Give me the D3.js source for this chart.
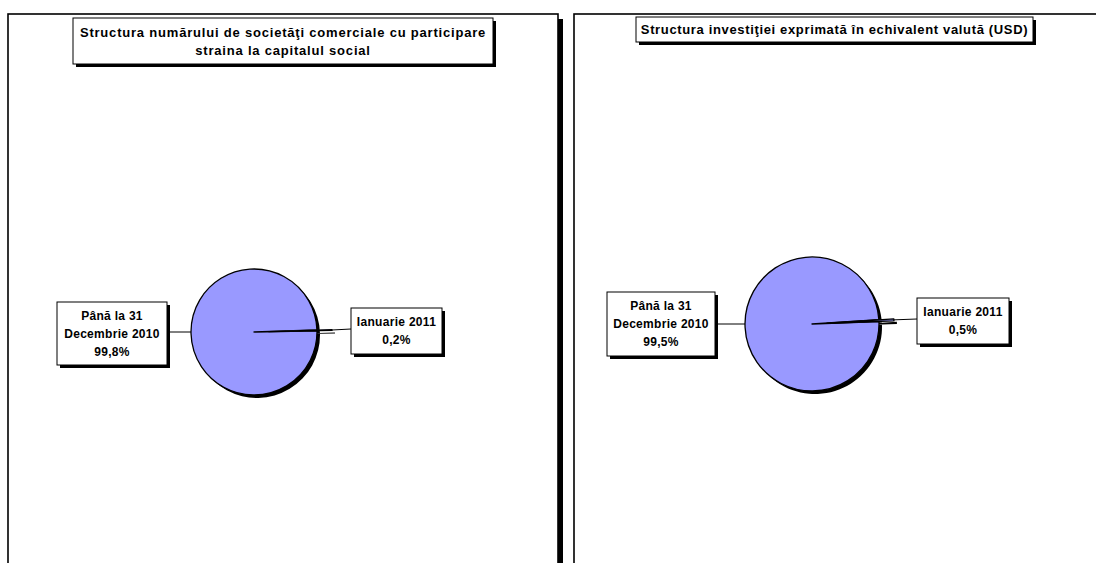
<!DOCTYPE html>
<html>
<head>
<meta charset="utf-8">
<script src="https://cdn.jsdelivr.net/npm/d3@7"></script>
<style>
  body { margin: 0; background: #fff; }
  text { font-family: "Liberation Sans", Arial, sans-serif; font-weight: bold; fill: #000; }
</style>
</head>
<body>
<svg width="1096" height="563"></svg>
<script>
// chart data
const titles = [
  ["Structura numărului de societăţi comerciale cu participare", "straina la capitalul social"],
  ["Structura investiţiei exprimată în echivalent valută (USD)"]
];
const categories = ["Până la 31 Decembrie 2010", "Ianuarie 2011"];
const labelLines = [["Până la 31", "Decembrie 2010"], ["Ianuarie 2011"]];
const sharesCompanies = [99.8, 0.2];
const sharesInvestment = [99.5, 0.5];

const svg = d3.select("svg");
const fmt = d3.formatLocale({decimal: ",", thousands: ".", grouping: [3], currency: ["", ""]}).format(".1f");

// panel layouts
const panels = [
  {x: 8, w: 550, title: titles[0], titleBox: [73, 18, 420, 46], titleBase: 19, titleSpacing: 0.8, values: sharesCompanies,
   cx: 254, cy: 332, r: 63, end: 88.9, leftBox: [57, 302, 110, 63], rightBox: [351, 308, 91, 46]},
  {x: 574, w: 600, title: titles[1], titleBox: [636, 17, 397, 25], titleBase: 17, titleSpacing: 0.65, values: sharesInvestment,
   cx: 812, cy: 324, r: 67, end: 88.0, leftBox: [607, 292, 108, 64], rightBox: [917, 298, 92, 46]}
];

panels.forEach(function(p) {
  // frame with shadow
  svg.append("rect").attr("x", p.x + p.w).attr("y", 19).attr("width", 5).attr("height", 600).attr("fill", "#000");
  svg.append("rect").attr("x", p.x).attr("y", 14).attr("width", p.w).attr("height", 600)
    .attr("fill", "#fff").attr("stroke", "#000").attr("stroke-width", 1.6);

  // title box
  const tb = p.titleBox;
  svg.append("rect").attr("x", tb[0] + 3).attr("y", tb[1] + 3).attr("width", tb[2]).attr("height", tb[3]).attr("fill", "#000");
  svg.append("rect").attr("x", tb[0]).attr("y", tb[1]).attr("width", tb[2]).attr("height", tb[3])
    .attr("fill", "#fff").attr("stroke", "#000").attr("stroke-width", 1);
  const tt = svg.append("text").attr("text-anchor", "middle")
    .style("font-size", "13px").style("letter-spacing", p.titleSpacing + "px");
  tt.selectAll("tspan").data(p.title).enter().append("tspan")
    .attr("x", tb[0] + tb[2] / 2)
    .attr("y", function(d, i) { return tb[1] + p.titleBase + i * 18; })
    .text(function(d) { return d; });

  // pie
  const a0 = p.end * Math.PI / 180;
  const pie = d3.pie().sort(null).startAngle(a0).endAngle(a0 + 2 * Math.PI);
  const arcs = pie(p.values);
  const arc = d3.arc().innerRadius(0).outerRadius(p.r);
  const explode = 15;
  const g = svg.append("g").attr("transform", "translate(" + p.cx + "," + p.cy + ")");

  function offset(d, i) {
    if (i === 0) return [0, 0];
    const m = (d.startAngle + d.endAngle) / 2;
    return [Math.sin(m) * explode, -Math.cos(m) * explode];
  }

  // shadows
  g.selectAll(".shadow").data(arcs).enter().append("path")
    .attr("class", "shadow")
    .attr("d", arc)
    .attr("fill", "#000")
    .attr("transform", function(d, i) { const o = offset(d, i); return "translate(" + (o[0] + 3) + "," + (o[1] + 3) + ")"; });

  g.selectAll(".slice").data(arcs).enter().append("path")
    .attr("class", "slice")
    .attr("d", arc)
    .attr("fill", "#9999ff")
    .attr("stroke", "#000")
    .attr("stroke-width", 1.3)
    .attr("stroke-linejoin", "round")
    .attr("transform", function(d, i) { const o = offset(d, i); return "translate(" + o[0] + "," + o[1] + ")"; });

  // labels
  [p.leftBox, p.rightBox].forEach(function(b, i) {
    const d = arcs[i];
    // leader line
    let x1, y1, x2, y2;
    if (i === 0) {
      x1 = p.cx - p.r; y1 = p.cy; x2 = b[0] + b[2]; y2 = p.cy;
    } else {
      const m = (d.startAngle + d.endAngle) / 2;
      x1 = p.cx + Math.sin(m) * (p.r + explode); y1 = p.cy - Math.cos(m) * (p.r + explode);
      x2 = b[0]; y2 = b[1] + b[3] / 2 - 2;
    }
    svg.append("line").attr("x1", x1).attr("y1", y1).attr("x2", x2).attr("y2", y2)
      .attr("stroke", "#000").attr("stroke-width", 1);

    svg.append("rect").attr("x", b[0] + 3).attr("y", b[1] + 3).attr("width", b[2]).attr("height", b[3]).attr("fill", "#000");
    svg.append("rect").attr("x", b[0]).attr("y", b[1]).attr("width", b[2]).attr("height", b[3])
      .attr("fill", "#fff").attr("stroke", "#000").attr("stroke-width", 1);
    const lines = labelLines[i].concat([fmt(p.values[i]) + "%"]);
    const t = svg.append("text").attr("text-anchor", "middle")
      .style("font-size", "12px").style("letter-spacing", "0.3px");
    const top = b[1] + b[3] / 2 - (lines.length - 1) * 9 + 4;
    t.selectAll("tspan").data(lines).enter().append("tspan")
      .attr("x", b[0] + b[2] / 2)
      .attr("y", function(d, k) { return top + k * 18; })
      .text(function(d) { return d; });
  });
});
</script>
</body>
</html>
